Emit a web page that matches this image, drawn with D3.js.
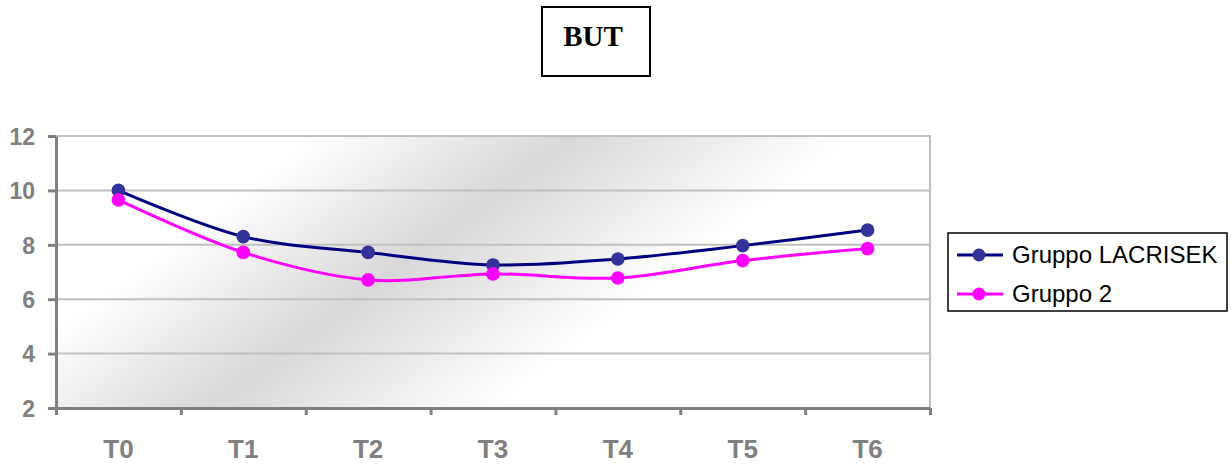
<!DOCTYPE html>
<html>
<head>
<meta charset="utf-8">
<script src="https://cdn.jsdelivr.net/npm/d3@7"></script>
<style>
  html, body { margin: 0; padding: 0; background: #fff; }
  svg { display: block; }
</style>
</head>
<body>
<svg id="chart" width="1231" height="466"></svg>
<script>
// Time points and the two groups' scores
const categories = ["T0", "T1", "T2", "T3", "T4", "T5", "T6"];
const lacrisek = [10.0, 8.30, 7.72, 7.26, 7.48, 7.97, 8.54];
const gruppo2 = [9.65, 7.72, 6.71, 6.93, 6.78, 7.42, 7.86];
const yTicks = [2, 4, 6, 8, 10, 12];
const seriesNames = ["Gruppo LACRISEK", "Gruppo 2"];
const title = "BUT";

const series = [
  { name: seriesNames[0], values: lacrisek, line: "#000080", marker: "#333399" },
  { name: seriesNames[1], values: gruppo2, line: "#FF00FF", marker: "#FF00FF" }
];

const svg = d3.select("#chart");
const plot = { left: 56, right: 930, top: 136, bottom: 408 };

const x = d3.scaleBand().domain(categories).range([plot.left, plot.right]);
const xEdge = d3.scaleLinear().domain([0, categories.length]).range([plot.left, plot.right]);
const y = d3.scaleLinear().domain([2, 12]).range([plot.bottom, plot.top]);

// Diagonal shaded backdrop of the plot area
const defs = svg.append("defs");
const grad = defs.append("linearGradient")
  .attr("id", "plotShade")
  .attr("gradientUnits", "userSpaceOnUse")
  .attr("x1", 0).attr("y1", 0)
  .attr("x2", 480).attr("y2", 640);
[[0, "#ffffff"], [0.37, "#ffffff"], [0.565, "#d8d8d8"], [0.78, "#ffffff"], [1, "#ffffff"]]
  .forEach(([o, c]) => grad.append("stop").attr("offset", o).attr("stop-color", c));

svg.append("rect")
  .attr("x", plot.left).attr("y", plot.top)
  .attr("width", plot.right - plot.left).attr("height", plot.bottom - plot.top)
  .attr("fill", "url(#plotShade)");

// Horizontal gridlines
svg.append("g").selectAll("line")
  .data(yTicks.filter(d => d > 2))
  .join("line")
  .attr("x1", plot.left).attr("x2", plot.right)
  .attr("y1", d => y(d)).attr("y2", d => y(d))
  .attr("stroke", "#c0c0c0").attr("stroke-width", 2);

// Right border of the plot area
svg.append("line")
  .attr("x1", plot.right).attr("x2", plot.right)
  .attr("y1", plot.top - 1).attr("y2", plot.bottom)
  .attr("stroke", "#c0c0c0").attr("stroke-width", 2);

// Y axis
const yAxis = svg.append("g")
  .attr("transform", `translate(${plot.left},0)`)
  .call(d3.axisLeft(y).tickValues(yTicks).tickSize(8).tickSizeOuter(0).tickPadding(13));
yAxis.select(".domain").attr("stroke", "#808080").attr("stroke-width", 3);
yAxis.selectAll(".tick line").attr("stroke", "#808080").attr("stroke-width", 3);
yAxis.selectAll(".tick text")
  .attr("fill", "#808080")
  .attr("font-family", "'Liberation Sans', Arial, sans-serif")
  .attr("font-weight", "bold")
  .attr("font-size", 23)
  .attr("dy", "0.36em");

// X axis: tick marks at category boundaries
const xAxisTicks = svg.append("g")
  .attr("transform", `translate(0,${plot.bottom})`)
  .call(d3.axisBottom(xEdge).tickValues(d3.range(categories.length + 1)).tickFormat("").tickSize(7).tickSizeOuter(0));
xAxisTicks.select(".domain").attr("stroke", "#808080").attr("stroke-width", 3);
xAxisTicks.selectAll(".tick line").attr("stroke", "#808080").attr("stroke-width", 3);

// X axis: category labels
const xAxisLabels = svg.append("g")
  .attr("transform", `translate(0,${plot.bottom})`)
  .call(d3.axisBottom(x).tickSize(0));
xAxisLabels.select(".domain").remove();
xAxisLabels.selectAll(".tick text")
  .attr("fill", "#808080")
  .attr("font-family", "'Liberation Sans', Arial, sans-serif")
  .attr("font-weight", "bold")
  .attr("font-size", 26)
  .attr("y", 50)
  .attr("dy", 0);

// Smoothed series lines with markers
const line = d3.line()
  .x((d, i) => x(categories[i]) + x.bandwidth() / 2)
  .y(d => y(d))
  .curve(d3.curveCatmullRom);

series.forEach(s => {
  const g = svg.append("g");
  g.append("path")
    .attr("d", line(s.values))
    .attr("fill", "none")
    .attr("stroke", s.line)
    .attr("stroke-width", 3);
  g.selectAll("circle")
    .data(s.values)
    .join("circle")
    .attr("cx", (d, i) => x(categories[i]) + x.bandwidth() / 2)
    .attr("cy", d => y(d))
    .attr("r", 6.8)
    .attr("fill", s.marker);
});

// Title box
svg.append("rect")
  .attr("x", 542).attr("y", 7)
  .attr("width", 108).attr("height", 69)
  .attr("fill", "#fff").attr("stroke", "#000").attr("stroke-width", 2);
svg.append("text")
  .attr("x", 593).attr("y", 46)
  .attr("text-anchor", "middle")
  .attr("font-family", "'Liberation Serif', 'Times New Roman', serif")
  .attr("font-weight", "bold")
  .attr("font-size", 29)
  .attr("fill", "#000")
  .text(title);

// Legend
const legend = svg.append("g");
legend.append("rect")
  .attr("x", 948).attr("y", 233)
  .attr("width", 279).attr("height", 78)
  .attr("fill", "#fff").attr("stroke", "#000").attr("stroke-width", 1.5);
series.forEach((s, i) => {
  const cy = 255 + i * 39;
  legend.append("line")
    .attr("x1", 957).attr("x2", 1003)
    .attr("y1", cy).attr("y2", cy)
    .attr("stroke", s.line).attr("stroke-width", 3);
  legend.append("circle")
    .attr("cx", 979).attr("cy", cy).attr("r", 6.5)
    .attr("fill", s.marker);
  legend.append("text")
    .attr("x", 1012).attr("y", cy + 8)
    .attr("font-family", "'Liberation Sans', Arial, sans-serif")
    .attr("font-size", 24)
    .attr("fill", "#000")
    .text(s.name);
});
</script>
</body>
</html>
